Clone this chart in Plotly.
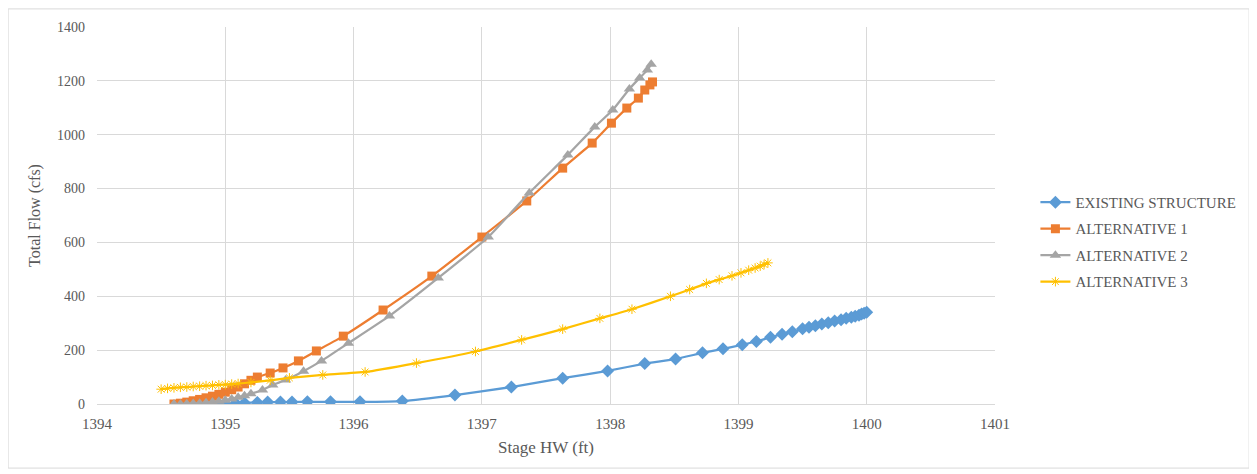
import plotly.graph_objects as go

# ── Data ────────────────────────────────────────────────────────
existing_x = [1394.95, 1395.0, 1395.08, 1395.15, 1395.25, 1395.33, 1395.43, 1395.52,
              1395.64, 1395.82, 1396.05, 1396.38, 1396.79, 1397.23, 1397.63, 1397.98,
              1398.27, 1398.51, 1398.72, 1398.88, 1399.03, 1399.14, 1399.25, 1399.34,
              1399.42, 1399.5, 1399.55, 1399.6, 1399.65, 1399.7, 1399.75, 1399.8,
              1399.84, 1399.88, 1399.91, 1399.94, 1399.96, 1399.98, 1400.0]
existing_y = [0, 1, 3, 4, 6, 7, 7, 7,
              8, 8, 8, 11, 33, 63, 96, 123,
              150, 167, 190, 205, 220, 232, 248, 259,
              268, 279, 285, 291, 297, 302, 308, 313,
              318, 322, 326, 330, 334, 337, 341]

alt1_x = [1394.6, 1394.65, 1394.7, 1394.75, 1394.8, 1394.85, 1394.9, 1394.95, 1395.0,
          1395.05, 1395.1, 1395.15, 1395.2, 1395.25, 1395.35, 1395.45, 1395.57, 1395.71,
          1395.92, 1396.23, 1396.61, 1397.0, 1397.35, 1397.63, 1397.86, 1398.01,
          1398.13, 1398.22, 1398.27, 1398.31, 1398.33]
alt1_y = [0, 3, 7, 12, 17, 23, 29, 36, 44,
          53, 63, 75, 88, 100, 115, 134, 160, 197,
          252, 349, 475, 620, 754, 876, 969, 1043,
          1099, 1136, 1166, 1185, 1196]

alt2_x = [1394.6, 1394.65, 1394.7, 1394.75, 1394.8, 1394.85, 1394.9, 1394.95, 1395.0,
          1395.05, 1395.1, 1395.15, 1395.2, 1395.29, 1395.37, 1395.47, 1395.61, 1395.75,
          1395.96, 1396.28, 1396.66, 1397.05, 1397.37, 1397.67, 1397.88, 1398.02,
          1398.15, 1398.23, 1398.29, 1398.32]
alt2_y = [0, 0, 1, 2, 3, 5, 7, 10, 14,
          19, 25, 31, 38, 52, 71, 89, 122, 160,
          226, 327, 468, 620, 784, 925, 1029, 1092,
          1170, 1211, 1240, 1262]

alt3_x = [1394.5, 1394.55, 1394.6, 1394.65, 1394.7, 1394.75, 1394.8, 1394.85, 1394.9,
          1394.95, 1395.0, 1395.05, 1395.1, 1395.2, 1395.35, 1395.5, 1395.76, 1396.09,
          1396.49, 1396.95, 1397.31, 1397.63, 1397.92, 1398.17, 1398.47, 1398.62,
          1398.75, 1398.85, 1398.95, 1399.02, 1399.08, 1399.13, 1399.17, 1399.2, 1399.23]
alt3_y = [55, 58, 60, 62, 63, 65, 66, 68, 69,
          71, 72, 74, 76, 80, 88, 97, 108, 119,
          152, 195, 238, 278, 318, 352, 400, 425,
          448, 462, 476, 487, 497, 505, 512, 518, 524]

names = ["EXISTING STRUCTURE", "ALTERNATIVE 1", "ALTERNATIVE 2", "ALTERNATIVE 3"]
colors = ["#5B9BD5", "#ED7D31", "#A5A5A5", "#FFC000"]

# ── Style ───────────────────────────────────────────────────────
_FONT = "Liberation Serif, Times New Roman, serif"
_TEXT = "#595959"
_GRID = "#D9D9D9"

series = [
    (existing_x, existing_y, dict(symbol="diamond", size=10)),
    (alt1_x, alt1_y, dict(symbol="square", size=9)),
    (alt2_x, alt2_y, dict(symbol="triangle-up", size=10)),
    (alt3_x, alt3_y, dict(symbol="asterisk-open", size=8)),
]

fig = go.Figure()
for i, ((xs, ys, mk), name, color) in enumerate(zip(series, names, colors)):
    marker = dict(color=color, **mk)
    if mk["symbol"].endswith("open"):
        marker["line"] = dict(color=color, width=1)
    fig.add_trace(
        go.Scatter(
            x=xs,
            y=ys,
            name=name,
            mode="lines+markers",
            line=dict(color=color, width=2.25, shape="spline", smoothing=0.4),
            marker=marker,
            legendgroup=f"g{i}",
        )
    )

# light border round the whole chart area
fig.add_shape(
    type="rect",
    xref="paper",
    yref="paper",
    x0=-0.099,
    x1=1.283,
    y0=-0.17,
    y1=1.048,
    line=dict(color="#D9D9D9", width=1),
    layer="below",
)

fig.update_layout(
    width=1257,
    height=474,
    paper_bgcolor="white",
    plot_bgcolor="white",
    font=dict(family=_FONT, color=_TEXT, size=14),
    # the page body adds an 8 px offset, so margins are shifted to match
    margin=dict(l=89, r=270, t=19, b=78),
    xaxis=dict(
        range=[1394, 1401],
        dtick=1,
        tick0=1394,
        showgrid=True,
        gridcolor=_GRID,
        zeroline=False,
        showline=False,
        ticks="",
        ticklabelstandoff=9,
        tickfont=dict(family=_FONT, size=15, color=_TEXT),
        title=dict(text="Stage HW (ft)", font=dict(family=_FONT, size=17, color=_TEXT), standoff=10),
    ),
    yaxis=dict(
        range=[0, 1400],
        dtick=200,
        showgrid=True,
        gridcolor=_GRID,
        zeroline=True,
        zerolinecolor=_GRID,
        zerolinewidth=1,
        showline=False,
        ticks="",
        ticklabelstandoff=11,
        tickfont=dict(family=_FONT, size=14, color=_TEXT),
        title=dict(text="Total Flow (cfs)", font=dict(family=_FONT, size=16, color=_TEXT), standoff=12),
    ),
    legend=dict(
        x=1.045,
        xanchor="left",
        y=0.43,
        yanchor="middle",
        font=dict(family=_FONT, size=15, color=_TEXT),
        bgcolor="rgba(0,0,0,0)",
        tracegroupgap=4,
    ),
    showlegend=True,
)

fig.write_html("out.html")
